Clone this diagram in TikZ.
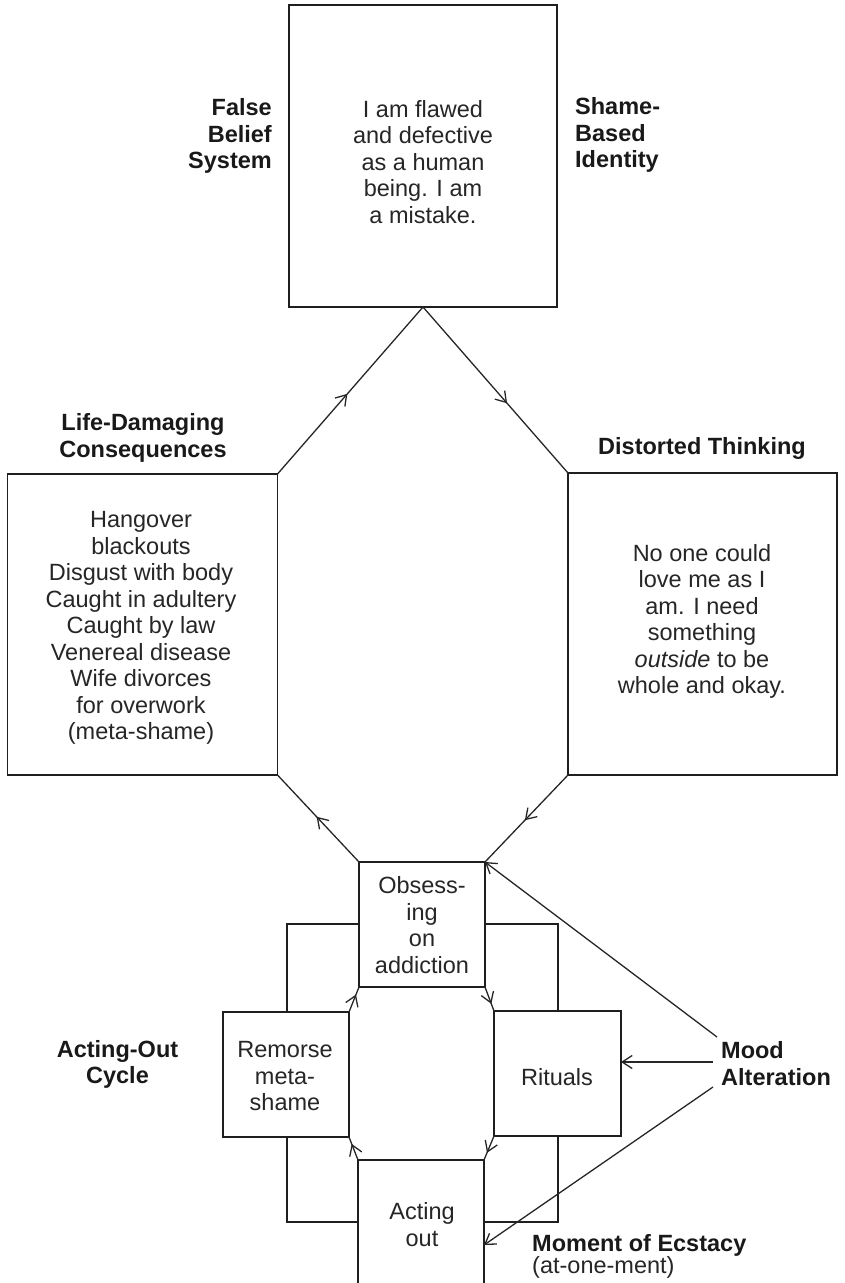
\documentclass[tikz,border=0pt]{standalone}
\usepackage{fontspec}
\setmainfont{Liberation Sans}
\usetikzlibrary{arrows.meta,decorations.markings}
\tikzset{
  box/.style={draw=black!88, line width=1.9pt, fill=white, inner sep=0pt, outer sep=0pt},
  txt/.style={align=center, inner sep=0pt, text=black!85, font=\fontsize{23.5}{26.5}\selectfont},
  lbl/.style={inner sep=0pt, text=black!90, font=\fontsize{23.5}{26.5}\selectfont\bfseries},
  conn/.style={draw=black!85, line width=1.3pt},
  tip/.tip={Straight Barb[length=10pt,width=13pt,line width=1.3pt]},
  midarrow/.style={postaction={decorate}, decoration={markings, mark=at position #1 with {\arrow{tip}}}}
}
\begin{document}
\begin{tikzpicture}[x=1pt,y=-1pt]
\useasboundingbox (0,0) rectangle (845,1283);
\clip (0,0) rectangle (845,1283);
% top box
\node[box, minimum width=268pt, minimum height=302pt] (top) at (423,156) {};
\node[txt] (toptxt) at (423,162) {I am flawed\\and defective\\as a human\\being. I am\\a mistake.};
\node[lbl, align=right, anchor=east] (fbs) at (272,136) {False\\Belief\\System};
\node[lbl, align=left, anchor=west] (sbi) at (575,135) {Shame-\\Based\\Identity};
% side boxes
\node[box, minimum width=270pt, minimum height=301pt] (lbox) at (142.5,624.5) {};
\node[txt] (ltxt) at (141,628) {Hangover\\blackouts\\Disgust with body\\Caught in adultery\\Caught by law\\Venereal disease\\Wife divorces\\for overwork\\(meta-shame)};
\node[lbl, align=center] (ldc) at (143,438) {Life-Damaging\\Consequences};
\node[box, minimum width=269pt, minimum height=302pt] (rbox) at (702.5,624) {};
\node[txt] (rtxt) at (702,621.5) {No one could\\love me as I\\am. I need\\something\\\textit{outside} to be\\whole and okay.};
\node[lbl] (dt) at (702,448) {Distorted Thinking};
% cycle
\draw[box, fill=none] (287,924) rectangle (558,1222);
\node[box, minimum width=126pt, minimum height=125pt] (obs) at (422,924.5) {};
\node[txt] (obstxt) at (422,925) {Obsess-\\ing\\on\\addiction};
\node[box, minimum width=126pt, minimum height=125pt] (rem) at (286,1074.5) {};
\node[txt] (remtxt) at (285,1076.5) {Remorse\\meta-\\shame};
\node[box, minimum width=127pt, minimum height=125pt] (rit) at (557.5,1073.5) {};
\node[txt] (rittxt) at (557,1077) {Rituals};
\node[box, minimum width=126pt, minimum height=170pt] (act) at (421,1245) {};
\node[txt] (acttxt) at (422,1224.5) {Acting\\out};
\node[lbl, align=center] (aoc) at (117.5,1064.5) {Acting-Out\\Cycle};
\node[lbl, align=left, anchor=west] (mood) at (721,1063.5) {Mood\\Alteration};
\node[lbl, anchor=west] (mom) at (532,1245) {Moment of Ecstacy};
\node[txt, anchor=west] (atone) at (532,1267) {(at-one-ment)};
% main connectors
\draw[conn, midarrow=0.48] (lbox.north east) -- (top.south);
\draw[conn, midarrow=0.58] (top.south) -- (rbox.north west);
\draw[conn, midarrow=0.52] (obs.north west) -- (lbox.south east);
\draw[conn, midarrow=0.52] (rbox.south west) -- (obs.north east);
% cycle connectors
\draw[conn, midarrow=0.7] (obs.south east) -- (rit.north west);
\draw[conn, midarrow=0.7] (rit.south west) -- (act.north east);
\draw[conn, midarrow=0.7] (act.north west) -- (rem.south east);
\draw[conn, midarrow=0.7] (rem.north east) -- (obs.south west);
% mood alteration
\coordinate (m1) at (717,1037);
\coordinate (m2) at (713,1062);
\coordinate (m3) at (713,1087);
\draw[conn, -{tip}] (m1) -- (obs.north east);
\draw[conn, -{tip}] (m2) -- (m2 -| rit.east);
\draw[conn, -{tip}] (m3) -- (act.east);
\end{tikzpicture}
\end{document}
